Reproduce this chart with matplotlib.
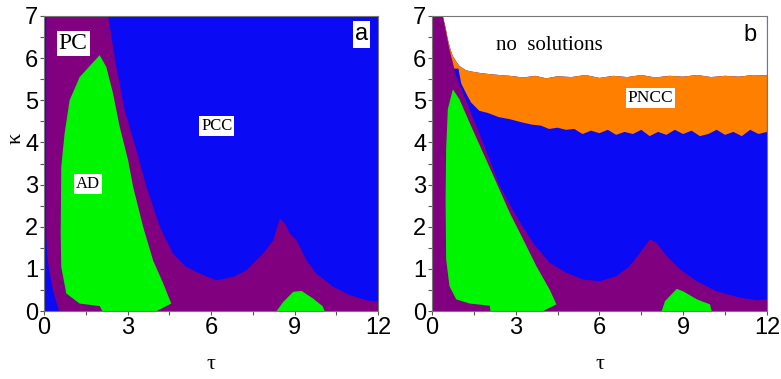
import numpy as np
import matplotlib.pyplot as plt
from matplotlib.ticker import MultipleLocator

# couleurs des regimes
BLEU = '#0a0af5'
VIOLET = '#800080'
VERT = '#00f500'
ORANGE = '#ff8000'

# ---------- panneau a : frontieres ----------
# bord droit de la zone PC (violet), de haut en bas
a_pc_x = [2.3, 2.6, 2.9, 3.32, 3.68, 4.16, 4.63, 5.11, 5.6, 6.19, 6.79, 7.27,
          7.87, 8.23, 8.47, 8.65, 8.83, 9.07, 9.43, 9.78, 10.38, 10.98, 11.58, 12.0]
a_pc_y = [7.0, 5.79, 4.76, 3.82, 2.95, 2.0, 1.37, 1.05, 0.89, 0.73, 0.81, 0.97,
          1.37, 1.68, 2.2, 2.08, 1.84, 1.68, 1.2, 0.89, 0.58, 0.38, 0.26, 0.22]
# bord gauche de la zone PC (bande bleue le long de tau=0)
a_pcg_x = [0.08, 0.08, 0.12, 0.18, 0.32, 0.54]
a_pcg_y = [7.0, 1.8, 1.3, 1.0, 0.5, 0.0]
# zone AD (vert)
a_ad_x = [2.0, 1.28, 0.92, 0.74, 0.62, 0.6, 0.62, 0.8, 1.28, 2.0, 2.1, 4.04,
          4.57, 4.28, 3.92, 3.56, 3.2, 3.02, 2.72, 2.48, 2.24]
a_ad_y = [6.07, 5.55, 5.0, 4.21, 3.42, 1.84, 1.05, 0.42, 0.18, 0.12, 0.0, 0.0,
          0.18, 0.66, 1.2, 2.0, 2.95, 3.58, 4.37, 5.16, 5.79]
# petit ilot AD pres de tau=9
a_ad2_x = [8.35, 8.59, 8.95, 9.25, 9.66, 10.0, 10.08]
a_ad2_y = [0.0, 0.22, 0.46, 0.48, 0.3, 0.12, 0.0]

# ---------- panneau b ----------
b_pc_x = [0.39, 0.63, 0.87, 1.35, 1.83, 2.43, 3.03, 3.62, 4.22, 4.82, 5.42,
          6.02, 6.61, 7.09, 7.45, 7.81, 8.05, 8.41, 8.89, 9.49, 10.2, 11.04, 11.64, 12.0]
b_pc_y = [7.0, 6.2, 5.58, 4.79, 4.0, 2.97, 2.25, 1.62, 1.15, 0.91, 0.75,
          0.71, 0.83, 1.07, 1.38, 1.7, 1.62, 1.31, 0.99, 0.71, 0.47, 0.32, 0.26, 0.28]
b_ad_x = [0.75, 0.57, 0.51, 0.49, 0.51, 0.63, 0.87, 1.35, 2.07, 2.1, 3.98,
          4.46, 4.22, 3.74, 3.27, 2.79, 2.31, 1.83, 1.35, 0.99]
b_ad_y = [5.26, 4.79, 3.84, 2.65, 1.23, 0.59, 0.28, 0.18, 0.13, 0.0, 0.0,
          0.16, 0.51, 1.07, 1.7, 2.33, 3.05, 3.76, 4.47, 5.02]
b_ad2_x = [8.23, 8.35, 8.77, 9.0, 9.49, 9.96, 10.02]
b_ad2_y = [0.0, 0.24, 0.53, 0.47, 0.28, 0.16, 0.0]
# limite superieure PNCC / pas de solution
b_haut_x = [0.39, 0.5, 0.57, 0.66, 0.75, 0.87, 0.99, 1.2, 1.35, 1.7, 2.07, 2.4, 2.8,
            3.27, 3.7, 4.1, 4.5, 5.0, 5.5, 6.0, 6.5, 7.0, 7.5, 8.0, 8.5, 9.0,
            9.5, 10.0, 10.5, 11.0, 11.5, 12.0]
b_haut_y = [7.0, 6.7, 6.45, 6.22, 6.05, 5.92, 5.81, 5.72, 5.69, 5.65, 5.62, 5.6, 5.58,
            5.54, 5.58, 5.52, 5.57, 5.55, 5.6, 5.53, 5.58, 5.55, 5.6, 5.54, 5.58, 5.56,
            5.6, 5.55, 5.58, 5.56, 5.6, 5.59]
# limite inferieure PNCC / PCC
b_bas_x = [12.0, 11.7, 11.4, 11.1, 10.8, 10.5, 10.2, 9.9, 9.6, 9.3, 9.0, 8.7, 8.4,
           8.1, 7.8, 7.5, 7.2, 6.9, 6.6, 6.3, 6.0, 5.7, 5.4, 5.1, 4.8, 4.5, 4.2,
           3.9, 3.6, 3.2, 2.8, 2.4, 2.0, 1.7, 1.4, 1.2, 1.05, 0.95]
b_bas_y = [4.25, 4.2, 4.3, 4.15, 4.25, 4.18, 4.3, 4.2, 4.15, 4.28, 4.2, 4.3, 4.18,
           4.25, 4.15, 4.3, 4.2, 4.25, 4.18, 4.3, 4.22, 4.28, 4.2, 4.32, 4.3, 4.35, 4.32,
           4.4, 4.42, 4.48, 4.55, 4.6, 4.7, 4.75, 4.95, 5.2, 5.4, 5.75]

fig = plt.figure(figsize=(7.81, 3.79), dpi=100)
ax1 = fig.add_axes([0.0563, 0.179, 0.428, 0.779])
ax2 = fig.add_axes([0.553, 0.179, 0.429, 0.779])

# panneau a
ax1.set_facecolor(BLEU)
xs = a_pcg_x + [12.0] + a_pc_x[::-1]
ys = a_pcg_y + [0.0] + a_pc_y[::-1]
ax1.fill(xs, ys, color=VIOLET, lw=0)
ax1.fill(a_ad_x, a_ad_y, color=VERT, lw=0)
ax1.fill(a_ad2_x, a_ad2_y, color=VERT, lw=0)

# panneau b
ax2.set_facecolor(BLEU)
ax2.fill(b_haut_x + [12.0], b_haut_y + [7.0], color='white', lw=0)
ax2.fill([0.0] + b_haut_x + b_bas_x + [0.0], [7.0] + b_haut_y + b_bas_y + [5.75],
         color=ORANGE, lw=0)
ax2.fill([0.03] + b_pc_x + [12.0, 0.03], [7.0] + b_pc_y + [0.0, 0.0], color=VIOLET, lw=0)
ax2.fill(b_ad_x, b_ad_y, color=VERT, lw=0)
ax2.fill(b_ad2_x, b_ad2_y, color=VERT, lw=0)

serif = ['Liberation Serif', 'DejaVu Serif']
sans = ['Liberation Sans', 'DejaVu Sans']
boite = dict(facecolor='white', edgecolor='none', pad=1.5)

for ax in (ax1, ax2):
    ax.set_xlim(0, 12)
    ax.set_ylim(0, 7)
    ax.xaxis.set_major_locator(MultipleLocator(3))
    ax.xaxis.set_minor_locator(MultipleLocator(1.5))
    ax.yaxis.set_major_locator(MultipleLocator(1))
    ax.yaxis.set_minor_locator(MultipleLocator(0.5))
    ax.tick_params(which='both', direction='out', length=3, width=0.8, color='#555555')
    ax.tick_params(labelsize=17, pad=1)
    for lab in ax.get_xticklabels() + ax.get_yticklabels():
        lab.set_family(sans)
    for s in ax.spines.values():
        s.set_color('#777777')
        s.set_linewidth(0.8)
    ax.set_xlabel('τ', family=serif, fontsize=16, va='center')
    ax.xaxis.set_label_coords(0.5, -0.18)

ax1.set_ylabel('κ', family=serif, fontsize=16, va='center')
ax1.yaxis.set_label_coords(-0.085, 0.586)

ax1.text(1.05, 6.35, 'PC', family=serif, fontsize=17, ha='center', va='center', bbox=boite)
ax1.text(6.2, 4.38, 'PCC', family=serif, fontsize=12, ha='center', va='center', bbox=boite)
ax1.text(1.58, 3.02, 'AD', family=serif, fontsize=12, ha='center', va='center', bbox=boite)
ax1.text(11.4, 6.56, 'a', family=sans, fontsize=17, ha='center', va='center', bbox=boite)

ax2.text(4.22, 6.31, 'no  solutions', family=serif, fontsize=15, ha='center', va='center')
ax2.text(7.83, 5.06, 'PNCC', family=serif, fontsize=12.5, ha='center', va='center', bbox=boite)
ax2.text(11.4, 6.55, 'b', family=sans, fontsize=17, ha='center', va='center')

fig.savefig('out.png', dpi=100)
